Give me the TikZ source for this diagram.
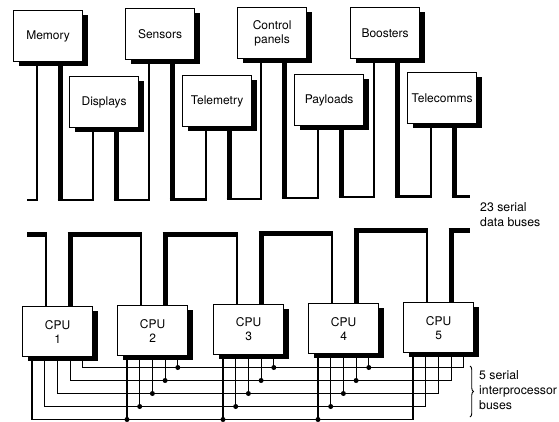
\documentclass[tikz,border=0pt]{standalone}
\usepackage{fontspec}
\setmainfont{TeX Gyre Heros}
\usetikzlibrary{shadows,decorations.pathreplacing,calc}
\pgfdeclarelayer{bg}
\pgfsetlayers{bg,main}
\begin{document}
\begin{tikzpicture}[x=1pt,y=-1pt,
  box/.style={draw, line width=1.2pt, fill=white, inner sep=0pt, align=center, anchor=north west,
    minimum width=69pt, minimum height=51pt, font=\fontsize{12}{14}\selectfont,
    general shadow={fill=black, shadow xshift=5pt, shadow yshift=-4.5pt}},
  cpubox/.style={box, minimum width=70pt, minimum height=50pt},
  thinw/.style={line width=1.4pt},
  medw/.style={line width=2.4pt},
  thickw/.style={line width=5pt},
  ipb/.style={line width=1.1pt},
  jdot/.style={circle, fill=black, inner sep=0pt, minimum size=5pt},
  lbl/.style={anchor=north west, align=left, inner sep=0pt, font=\fontsize{12.3}{15}\selectfont}]
\useasboundingbox (0,0) rectangle (559,421);

% device boxes
\node[box] (mem) at (13,10) {Memory};
\node[box] (sens) at (125,8) {Sensors};
\node[box] (ctrl) at (237,7) {Control\\panels};
\node[box] (boost) at (350,7) {Boosters};
\node[box] (disp) at (69,76) {Displays};
\node[box] (tele) at (182,75) {Telemetry};
\node[box] (payl) at (294,74) {Payloads};
\node[box] (tcom) at (407,72) {Telecomms};

% CPUs
\node[cpubox] (cpu1) at (22,306) {CPU\\1};
\node[cpubox] (cpu2) at (117,305) {CPU\\2};
\node[cpubox] (cpu3) at (213,304) {CPU\\3};
\node[cpubox] (cpu4) at (308,303) {CPU\\4};
\node[cpubox] (cpu5) at (403,302) {CPU\\5};

% labels
\node[lbl] (lab1) at (480,202) {23 serial\\data buses};
\node[lbl] (lab2) at (479,370) {5 serial\\interprocessor\\buses};
\coordinate (brT) at (470,366);
\coordinate (brB) at (470,417);
\draw[line width=0.9pt, decorate, decoration={brace, amplitude=3.5pt}] (brT) -- (brB);

\begin{pgfonlayer}{bg}
% upper data bus loops
\foreach \a/\b/\yy in {mem/disp/200, disp/sens/200, sens/tele/199.5, tele/ctrl/199, ctrl/payl/198, payl/boost/197, boost/tcom/196.5}{
  \coordinate (A) at ([xshift=47pt]\a.south west);
  \coordinate (B) at ([xshift=24pt]\b.south west);
  \coordinate (Y) at (0,\yy);
  \draw[medw] ($(A |- Y)+(-2.5,0)$) -- ($(B |- Y)+(0.7,0)$);
  \draw[thickw] (A) -- ($(A |- Y)+(0,1.2)$);
  \draw[thinw] (B) -- ($(B |- Y)+(0,1.2)$);
}
\coordinate (L) at ([xshift=24pt]mem.south west);
\coordinate (stubL) at (27,200);
\draw[thinw] (L) -- ($(L |- stubL)+(0,1.2)$);
\draw[medw] (stubL) -- ($(L |- stubL)+(0.7,0)$);
\coordinate (R) at ([xshift=47pt]tcom.south west);
\coordinate (stubR) at (470,196.5);
\draw[thickw] (R) -- ($(R |- stubR)+(0,1.2)$);
\draw[medw] ($(R |- stubR)+(-2.5,0)$) -- (stubR);

% lower data bus loops
\foreach \a/\b/\yy in {cpu1/cpu2/234.2, cpu2/cpu3/234, cpu3/cpu4/233.2, cpu4/cpu5/230.8}{
  \coordinate (A) at ([xshift=48pt]\a.north west);
  \coordinate (B) at ([xshift=24pt]\b.north west);
  \coordinate (Y) at (0,\yy);
  \draw[thickw] ($(A |- Y)+(-2.5,0)$) -- ($(B |- Y)+(0.7,0)$);
  \draw[thickw] (A) -- ($(A |- Y)+(0,-2.5)$);
  \draw[thinw] (B) -- ($(B |- Y)+(0,-2.5)$);
}
\coordinate (L2) at ([xshift=24pt]cpu1.north west);
\coordinate (stubL2) at (27,234.8);
\draw[thinw] (L2) -- ($(L2 |- stubL2)+(0,-2.5)$);
\draw[thickw] (stubL2) -- ($(L2 |- stubL2)+(0.7,0)$);
\coordinate (R2) at ([xshift=48pt]cpu5.north west);
\coordinate (stubR2) at (470,230.5);
\draw[thickw] (R2) -- ($(R2 |- stubR2)+(0,-2.5)$);
\draw[thickw] ($(R2 |- stubR2)+(-2.5,0)$) -- (stubR2);

% interprocessor buses
\foreach \k in {0,...,4}{
  \pgfmathsetmacro\dx{10+12.7*\k}
  \pgfmathsetmacro\yy{419.5-13*\k}
  \coordinate (Y) at (0,\yy);
  \coordinate (S) at ([xshift=\dx pt]cpu1.south west);
  \coordinate (E) at ([xshift=\dx pt]cpu5.south west);
  \draw[ipb] (S) -- (S |- Y) -- (E |- Y) -- (E);
  \foreach \c in {2,3,4}{
    \coordinate (T) at ([xshift=\dx pt]cpu\c.south west);
    \draw[ipb] (T) -- (T |- Y) node[jdot]{};
  }
}
\end{pgfonlayer}
\end{tikzpicture}
\end{document}
